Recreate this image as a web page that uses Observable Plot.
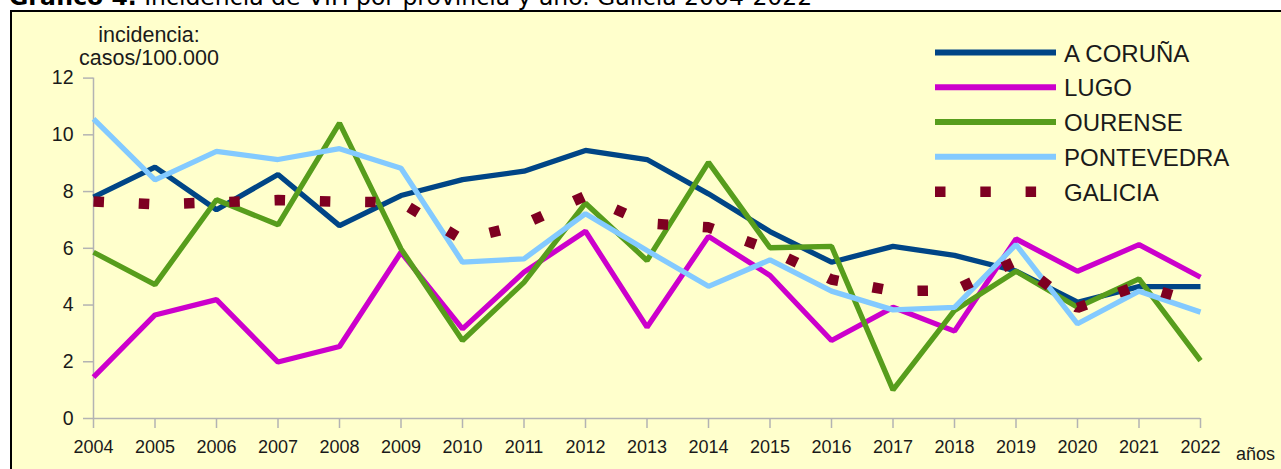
<!DOCTYPE html>
<html>
<head>
<meta charset="utf-8">
<script src="https://cdn.jsdelivr.net/npm/d3@7"></script>
<script src="https://cdn.jsdelivr.net/npm/@observablehq/plot@0.6"></script>
<style>
  html, body { margin: 0; padding: 0; background: #ffffff; overflow: hidden; }
  #wrap { position: relative; width: 1281px; height: 469px; overflow: hidden; }
  #frame { position: absolute; left: 10px; top: 10px; width: 1400px; height: 600px;
           background: #ffffcc; border-top: 2px solid #000; border-left: 2px solid #000; }
  #chart, #overlay { position: absolute; left: 0; top: 0; }
</style>
</head>
<body>
<div id="wrap">
  <div id="frame"></div>
  <div id="chart"></div>
  <svg id="overlay" width="1281" height="469"></svg>
</div>
<script>
// ---- data ----
const years = [2004, 2005, 2006, 2007, 2008, 2009, 2010, 2011, 2012, 2013, 2014, 2015, 2016, 2017, 2018, 2019, 2020, 2021, 2022];
const coruna     = [7.80, 8.86, 7.36, 8.60, 6.80, 7.86, 8.42, 8.72, 9.45, 9.13, 7.92, 6.59, 5.51, 6.07, 5.75, 5.20, 4.10, 4.65, 4.65];
const lugo       = [1.46, 3.65, 4.19, 1.99, 2.54, 5.86, 3.16, 5.16, 6.60, 3.22, 6.42, 5.04, 2.75, 3.92, 3.08, 6.33, 5.19, 6.13, 4.98];
const ourense    = [5.86, 4.72, 7.71, 6.83, 10.41, 5.98, 2.75, 4.80, 7.59, 5.57, 9.03, 6.02, 6.07, 1.01, 3.81, 5.19, 3.92, 4.92, 2.04];
const pontevedra = [10.56, 8.41, 9.42, 9.13, 9.51, 8.82, 5.51, 5.63, 7.22, 5.92, 4.66, 5.59, 4.49, 3.83, 3.92, 6.13, 3.34, 4.49, 3.75];
const galicia    = [7.65, 7.55, 7.62, 7.70, 7.64, 7.62, 6.30, 6.85, 7.85, 6.88, 6.74, 5.95, 4.90, 4.49, 4.52, 5.55, 3.90, 4.70, 4.05];
const seriesNames = ["A CORUÑA", "LUGO", "OURENSE", "PONTEVEDRA", "GALICIA"];
const seriesValues = [coruna, lugo, ourense, pontevedra, galicia];
const seriesColors = ["#004586", "#cc00cc", "#579d1c", "#83caff", "#7e0021"];
const yTicks = [0, 2, 4, 6, 8, 10, 12];
const titleBold = "Gráfico 4.";
const titleRest = " Incidencia de VIH por provincia y año. Galicia 2004-2022";
const yLabelLines = ["incidencia:", "casos/100.000"];
const xLabel = "años";

const tables = seriesValues.map(vals => years.map((year, i) => ({year, value: vals[i]})));

const font = "'Liberation Sans', Arial, sans-serif";

const lineMarks = tables.map((t, k) => k < 4
  ? Plot.line(t, {x: "year", y: "value", stroke: seriesColors[k], strokeWidth: 5.3, strokeLinejoin: "miter", strokeLinecap: "butt"})
  : Plot.line(t, {x: "year", y: "value", stroke: seriesColors[k], strokeWidth: 10.5, strokeDasharray: "10.5,34.8", strokeLinecap: "butt", strokeLinejoin: "miter"})
);

const chart = Plot.plot({
  width: 1281,
  height: 469,
  marginLeft: 93,
  marginRight: 81,
  marginTop: 77.6,
  marginBottom: 51,
  style: {background: "transparent", fontFamily: font, color: "#1a1a1a", overflow: "visible"},
  x: {domain: [2004, 2022]},
  y: {domain: [0, 12]},
  marks: [
    Plot.ruleX([2004], {y1: 0, y2: 12, stroke: "#b3b3b3", strokeWidth: 1.5}),
    Plot.ruleY([0], {x1: 2004, x2: 2022, stroke: "#b3b3b3", strokeWidth: 1.5}),
    Plot.axisY({ticks: yTicks, tickSize: 10, tickPadding: 10, stroke: "#b3b3b3", fill: "#1a1a1a", fontSize: 19.5, label: null, strokeWidth: 1.5}),
    Plot.axisX({ticks: years, tickFormat: d => String(d), tickSize: 10, tickPadding: 12, stroke: "#b3b3b3", fill: "#1a1a1a", fontSize: 18, label: null, strokeWidth: 1.5}),
    ...lineMarks
  ]
});
document.getElementById("chart").appendChild(chart);

// ---- overlay: title, axis titles, legend ----
const ov = d3.select("#overlay");
const title = ov.append("text").attr("x", 9).attr("y", 5).attr("font-family", "'DejaVu Sans', sans-serif").attr("font-size", 23.5).attr("fill", "#000");
title.append("tspan").attr("font-weight", "bold").text(titleBold);
title.append("tspan").text(titleRest);

ov.selectAll("text.ylab").data(yLabelLines).join("text")
  .attr("class", "ylab")
  .attr("x", 149).attr("y", (d, i) => 41.7 + i * 23.3)
  .attr("text-anchor", "middle")
  .attr("font-family", font).attr("font-size", 21.5).attr("fill", "#1a1a1a")
  .text(d => d);

ov.append("text").attr("x", 1236).attr("y", 460)
  .attr("font-family", font).attr("font-size", 18).attr("fill", "#1a1a1a").text(xLabel);

const rowsY = [52.5, 87.3, 122, 156.8, 191.7];
const lg = ov.append("g");
seriesNames.forEach((name, k) => {
  const yy = rowsY[k];
  if (k < 4) {
    lg.append("line").attr("x1", 935).attr("x2", 1056).attr("y1", yy).attr("y2", yy)
      .attr("stroke", seriesColors[k]).attr("stroke-width", 6);
  } else {
    lg.append("line").attr("x1", 935).attr("x2", 1037).attr("y1", yy).attr("y2", yy)
      .attr("stroke", seriesColors[k]).attr("stroke-width", 10.5).attr("stroke-dasharray", "10.5,34.8");
  }
  lg.append("text").attr("x", 1064).attr("y", yy + 9)
    .attr("font-family", font).attr("font-size", 24).attr("fill", "#1a1a1a").text(name);
});
</script>
</body>
</html>
